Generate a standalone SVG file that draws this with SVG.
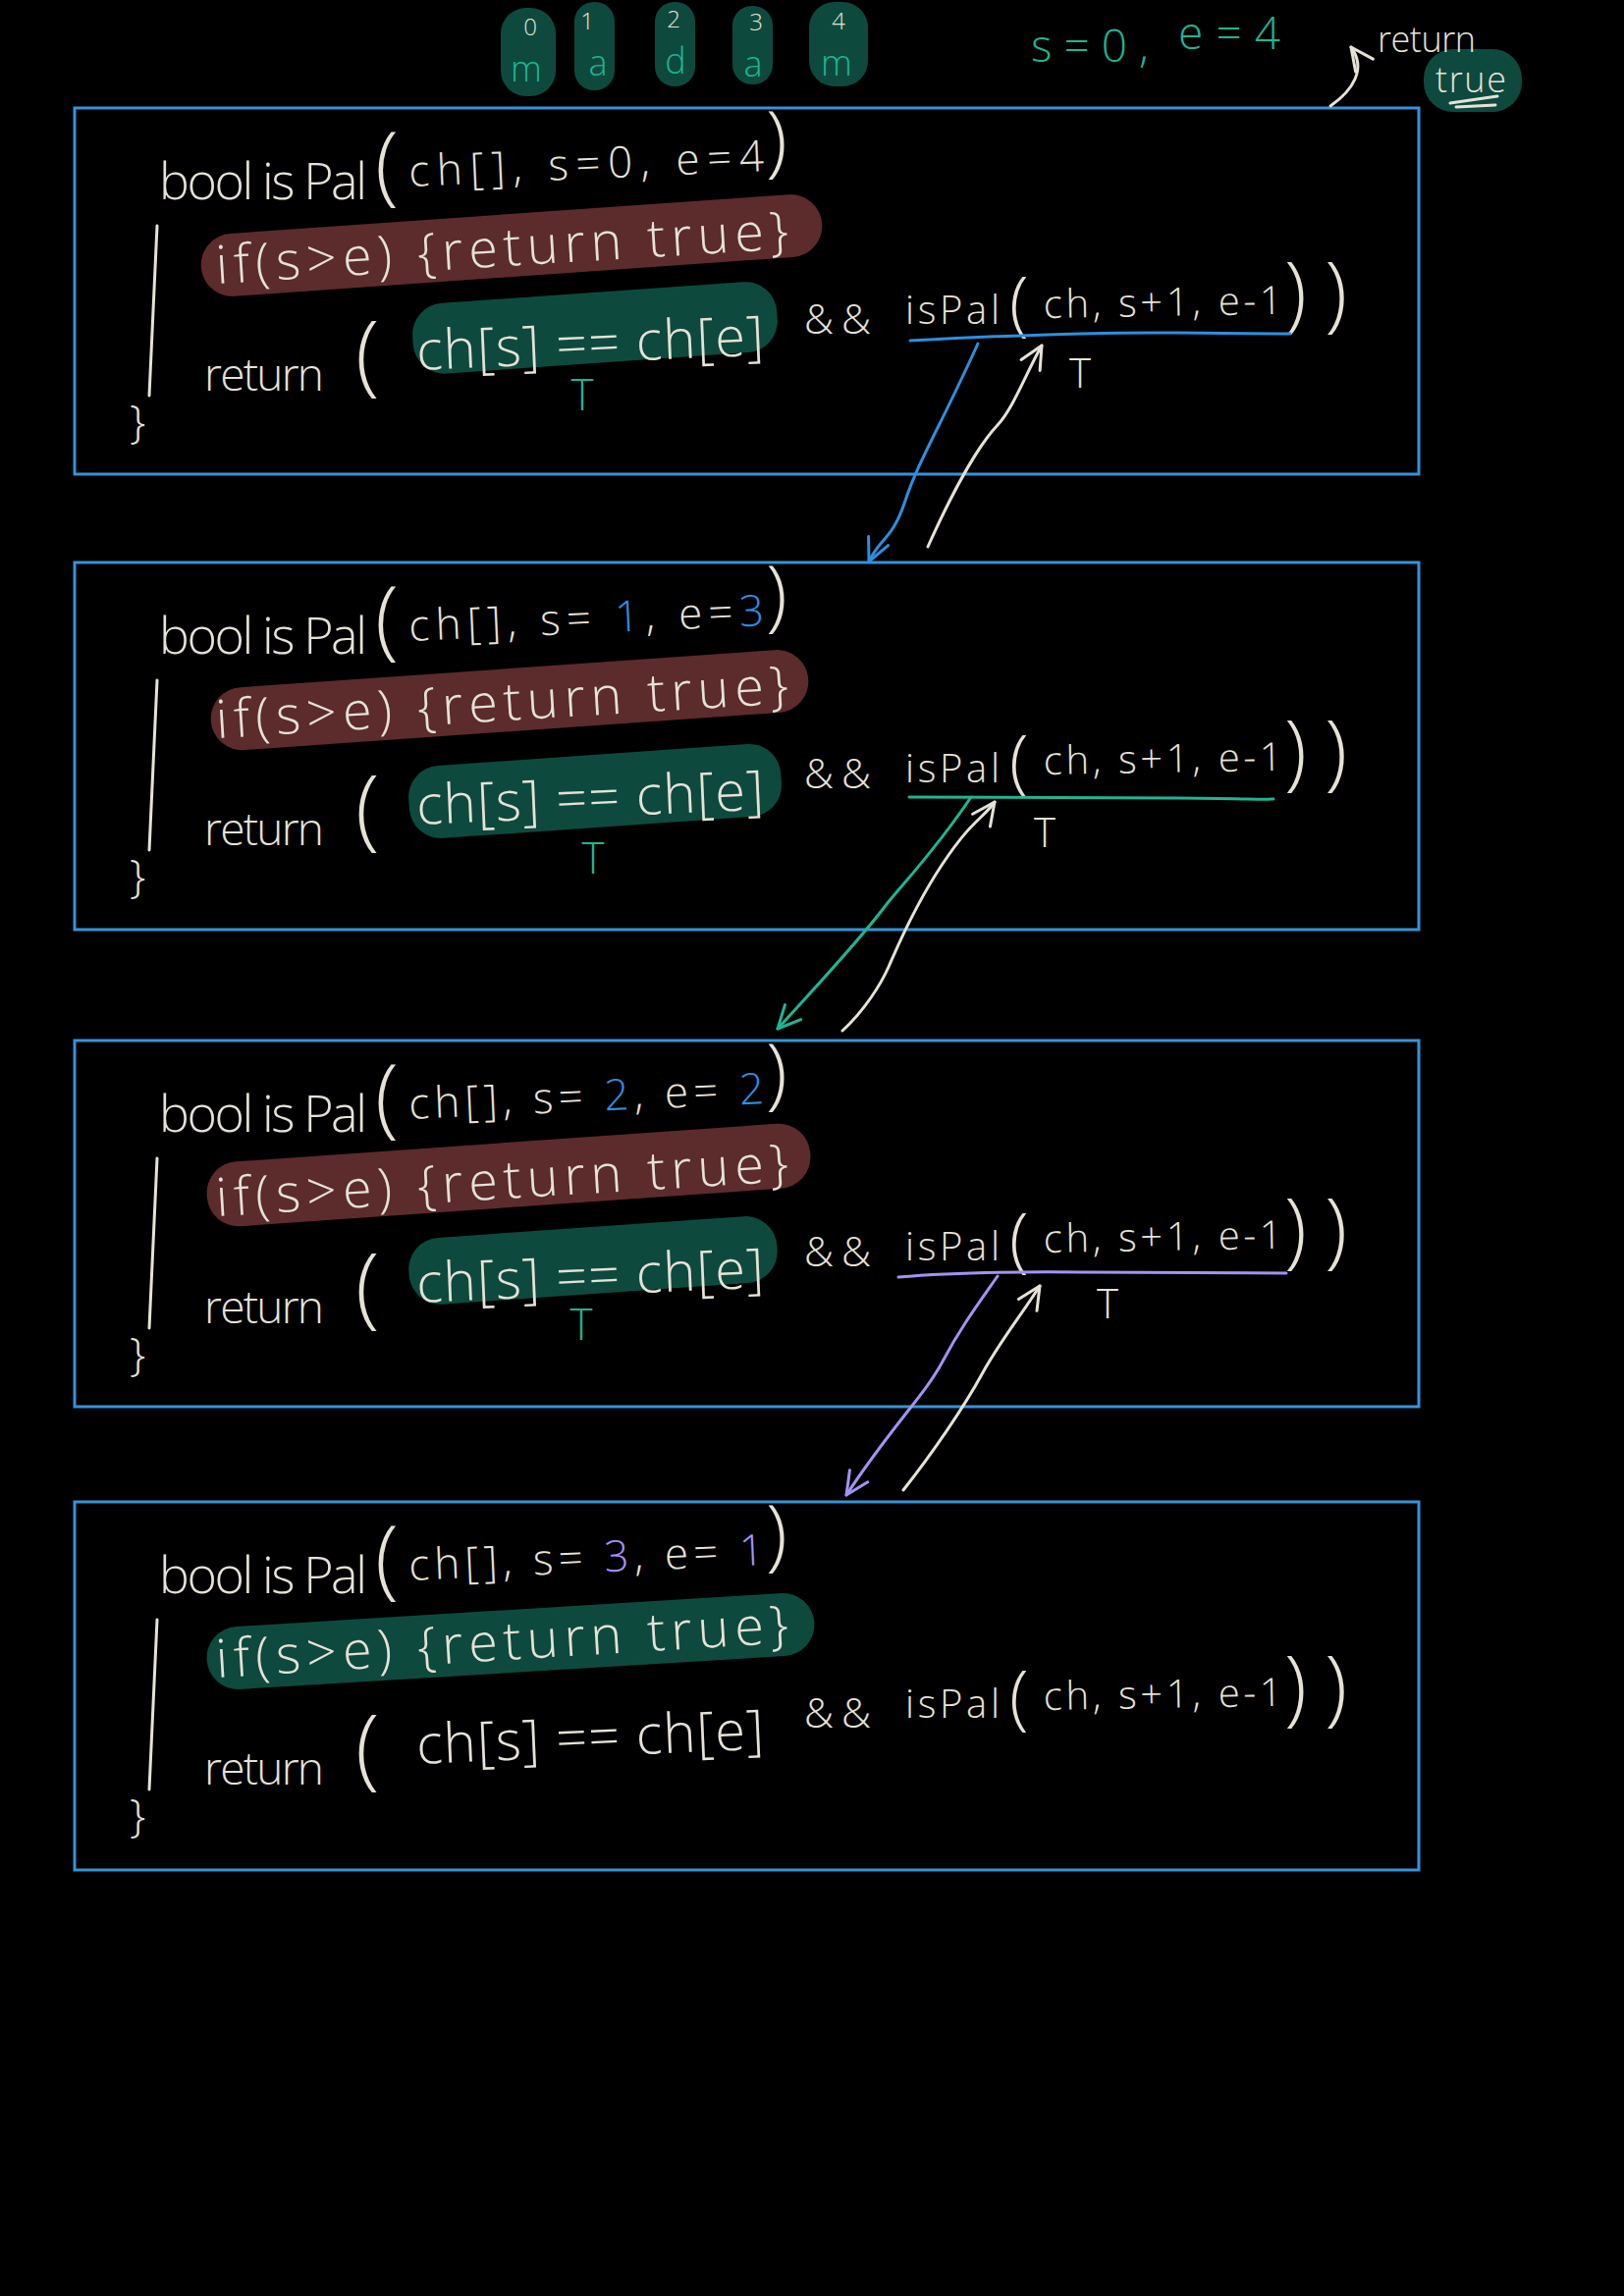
<svg xmlns="http://www.w3.org/2000/svg" width="1654" height="2339" viewBox="0 0 1654 2339">
<defs>
<style>
.hand{font-family:"Open Sans","Liberation Sans",sans-serif;font-weight:300;fill:#e6e2d8}
.frame{fill:none;stroke:#3593d8;stroke-width:3}
.red{fill:#5c2b2c}
.grn{fill:#0d4a3d}
.teal{fill:#1fb592}
.blu{fill:#2d8fe0}
.pur{fill:#a592f2}
.stk{fill:none;stroke:#e6e2d8;stroke-width:3;stroke-linecap:round;stroke-linejoin:round}
.conn{fill:none;stroke-width:3;stroke-linecap:round;stroke-linejoin:round}
</style>
<marker id="ah-w" viewBox="0 0 30 30" refX="27" refY="15" markerWidth="30" markerHeight="30" markerUnits="userSpaceOnUse" orient="auto"><path d="M4,4 L27,15 L4,26" fill="none" stroke="#e6e2d8" stroke-width="3" stroke-linecap="round" stroke-linejoin="round"/></marker>
<marker id="ah-b" viewBox="0 0 30 30" refX="27" refY="15" markerWidth="30" markerHeight="30" markerUnits="userSpaceOnUse" orient="auto"><path d="M4,4 L27,15 L4,26" fill="none" stroke="#2d8fe0" stroke-width="3" stroke-linecap="round" stroke-linejoin="round"/></marker>
<marker id="ah-g" viewBox="0 0 30 30" refX="27" refY="15" markerWidth="30" markerHeight="30" markerUnits="userSpaceOnUse" orient="auto"><path d="M4,4 L27,15 L4,26" fill="none" stroke="#1fb592" stroke-width="3" stroke-linecap="round" stroke-linejoin="round"/></marker>
<marker id="ah-p" viewBox="0 0 30 30" refX="27" refY="15" markerWidth="30" markerHeight="30" markerUnits="userSpaceOnUse" orient="auto"><path d="M4,4 L27,15 L4,26" fill="none" stroke="#a592f2" stroke-width="3" stroke-linecap="round" stroke-linejoin="round"/></marker>
</defs>
<rect width="1654" height="2339" fill="#000"/>

<g id="header">
  <rect class="grn" x="510" y="8" width="56" height="90" rx="26"/>
  <rect class="grn" x="585" y="2" width="41" height="90" rx="20"/>
  <rect class="grn" x="667" y="2" width="41" height="86" rx="20"/>
  <rect class="grn" x="746" y="6" width="41" height="80" rx="20"/>
  <rect class="grn" x="824" y="2" width="60" height="86" rx="26"/>
  <g class="hand" font-size="24" text-anchor="middle">
    <text x="540" y="36">0</text>
    <text x="598" y="30">1</text>
    <text x="686" y="28">2</text>
    <text x="770" y="31">3</text>
    <text x="854" y="30">4</text>
  </g>
  <g class="hand" font-size="36" text-anchor="middle" style="fill:#1fb592">
    <text x="536" y="83">m</text>
    <text x="609" y="77">a</text>
    <text x="688" y="75">d</text>
    <text x="767" y="78">a</text>
    <text x="852" y="77">m</text>
  </g>
  <text class="hand" style="fill:#1fb592" x="1050" y="63" font-size="46" textLength="120">s=0,</text>
  <text class="hand" style="fill:#1fb592" x="1200" y="50" font-size="46" textLength="104">e=4</text>
  <rect class="grn" x="1450" y="50" width="100" height="64" rx="30"/>
  <text class="hand" x="1403" y="53" font-size="36" textLength="100">return</text>
  <text class="hand" x="1462" y="94" font-size="36" textLength="72">true</text>
  <path class="stk" d="M1477,105 L1525,98 M1483,109 L1523,107"/>
</g>

<g id="call-1">
  <rect class="frame" x="76" y="110" width="1369" height="373"/>
  <text class="hand" x="162" y="203" font-size="52" textLength="212">bool is Pal</text>
  <text class="hand" x="382" y="198" font-size="88">(</text>
  <text class="hand" x="417" y="190" font-size="44" textLength="362" transform="rotate(-2.5 417 190)">ch[], s=0, e=4</text>
  <text class="hand" x="780" y="170" font-size="80">)</text>
  <rect class="red" transform="rotate(-4 521 250)" x="204" y="218" width="634" height="64" rx="32"/>
  <text class="hand" x="221" y="289" font-size="54" textLength="584" transform="rotate(-3.5 221 289)">if(s&gt;e) {return true}</text>
  <path class="stk" d="M160,230 L152,403"/>
  <text class="hand" x="132" y="446" font-size="46">}</text>
  <text class="hand" x="208" y="398" font-size="46" textLength="122">return</text>
  <text class="hand" x="362" y="392" font-size="90">(</text>
  <rect class="grn" transform="rotate(-4 605 334)" x="420" y="298" width="372" height="72" rx="32"/>
  <text class="hand" x="425" y="377" font-size="56" textLength="354" transform="rotate(-2.5 425 377)">ch[s] == ch[e]</text>
  <text class="hand" style="fill:#1fb592" x="593" y="418" font-size="44" text-anchor="middle">T</text>
  <text class="hand" x="819" y="340" font-size="42" textLength="68">&amp;&amp;</text>
  <text class="hand" x="922" y="330" font-size="40" textLength="96">isPal</text>
  <text class="hand" x="1028" y="334" font-size="72">(</text>
  <text class="hand" x="1063" y="324" font-size="40" textLength="243" transform="rotate(-1 1063 324)">ch, s+1, e-1</text>
  <text class="hand" x="1308" y="328" font-size="84" textLength="64">))</text>
  <path class="conn" stroke="#2d8fe0" d="M927,347 C1000,343 1100,338 1200,339 S1290,340 1314,340"/>
  <text class="hand" x="1100" y="395" font-size="42" text-anchor="middle">T</text>
</g>

<g id="call-2" transform="translate(0,463)">
  <rect class="frame" x="76" y="110" width="1369" height="374"/>
  <text class="hand" x="162" y="203" font-size="52" textLength="212">bool is Pal</text>
  <text class="hand" x="382" y="198" font-size="88">(</text>
  <text class="hand" x="417" y="190" font-size="44" textLength="362" transform="rotate(-2.5 417 190)">ch[], s= <tspan style="fill:#2d8fe0">1</tspan>, e=<tspan style="fill:#2d8fe0">3</tspan></text>
  <text class="hand" x="780" y="170" font-size="80">)</text>
  <rect class="red" transform="rotate(-4 521 250)" x="214" y="218" width="610" height="64" rx="32"/>
  <text class="hand" x="221" y="289" font-size="54" textLength="584" transform="rotate(-3.5 221 289)">if(s&gt;e) {return true}</text>
  <path class="stk" d="M160,230 L152,403"/>
  <text class="hand" x="132" y="446" font-size="46">}</text>
  <text class="hand" x="208" y="398" font-size="46" textLength="122">return</text>
  <text class="hand" x="362" y="392" font-size="90">(</text>
  <rect class="grn" transform="rotate(-4 605 342)" x="416" y="306" width="380" height="74" rx="32"/>
  <text class="hand" x="425" y="377" font-size="56" textLength="354" transform="rotate(-2.5 425 377)">ch[s] == ch[e]</text>
  <text class="hand" style="fill:#1fb592" x="604" y="427" font-size="44" text-anchor="middle">T</text>
  <text class="hand" x="819" y="340" font-size="42" textLength="68">&amp;&amp;</text>
  <text class="hand" x="922" y="334" font-size="40" textLength="96">isPal</text>
  <text class="hand" x="1028" y="338" font-size="72">(</text>
  <text class="hand" x="1063" y="326" font-size="40" textLength="243" transform="rotate(-1 1063 326)">ch, s+1, e-1</text>
  <text class="hand" x="1308" y="332" font-size="84" textLength="64">))</text>
  <path class="conn" stroke="#1fb592" d="M926,349 C1000,349 1100,349 1200,350 S1280,352 1297,351"/>
  <text class="hand" x="1064" y="400" font-size="42" text-anchor="middle">T</text>
</g>

<g id="call-3" transform="translate(0,950)">
  <rect class="frame" x="76" y="110" width="1369" height="373"/>
  <text class="hand" x="162" y="203" font-size="52" textLength="212">bool is Pal</text>
  <text class="hand" x="382" y="198" font-size="88">(</text>
  <text class="hand" x="417" y="190" font-size="44" textLength="362" transform="rotate(-2.5 417 190)">ch[], s= <tspan style="fill:#2d8fe0">2</tspan>, e= <tspan style="fill:#2d8fe0">2</tspan></text>
  <text class="hand" x="780" y="170" font-size="80">)</text>
  <rect class="red" transform="rotate(-4 518 247)" x="210" y="214" width="616" height="66" rx="32"/>
  <text class="hand" x="221" y="289" font-size="54" textLength="584" transform="rotate(-3.5 221 289)">if(s&gt;e) {return true}</text>
  <path class="stk" d="M160,230 L152,403"/>
  <text class="hand" x="132" y="446" font-size="46">}</text>
  <text class="hand" x="208" y="398" font-size="46" textLength="122">return</text>
  <text class="hand" x="362" y="392" font-size="90">(</text>
  <rect class="grn" transform="rotate(-4 603 334)" x="416" y="300" width="376" height="68" rx="32"/>
  <text class="hand" x="425" y="377" font-size="56" textLength="354" transform="rotate(-2.5 425 377)">ch[s] == ch[e]</text>
  <text class="hand" style="fill:#1fb592" x="592" y="415" font-size="44" text-anchor="middle">T</text>
  <text class="hand" x="819" y="340" font-size="42" textLength="68">&amp;&amp;</text>
  <text class="hand" x="922" y="334" font-size="40" textLength="96">isPal</text>
  <text class="hand" x="1028" y="338" font-size="72">(</text>
  <text class="hand" x="1063" y="326" font-size="40" textLength="243" transform="rotate(-1 1063 326)">ch, s+1, e-1</text>
  <text class="hand" x="1308" y="332" font-size="84" textLength="64">))</text>
  <path class="conn" stroke="#a592f2" d="M915,351 C950,348 1000,345 1100,346 S1280,347 1310,347"/>
  <text class="hand" x="1128" y="393" font-size="42" text-anchor="middle">T</text>
</g>

<g id="call-4" transform="translate(0,1420)">
  <rect class="frame" x="76" y="110" width="1369" height="375"/>
  <text class="hand" x="162" y="203" font-size="52" textLength="212">bool is Pal</text>
  <text class="hand" x="382" y="198" font-size="88">(</text>
  <text class="hand" x="417" y="190" font-size="44" textLength="362" transform="rotate(-2.5 417 190)">ch[], s= <tspan style="fill:#a592f2">3</tspan>, e= <tspan style="fill:#a592f2">1</tspan></text>
  <text class="hand" x="780" y="170" font-size="80">)</text>
  <rect class="grn" transform="rotate(-3.5 520 252)" x="210" y="220" width="620" height="64" rx="32"/>
  <text class="hand" x="221" y="289" font-size="54" textLength="584" transform="rotate(-3.5 221 289)">if(s&gt;e) {return true}</text>
  <path class="stk" d="M160,230 L152,403"/>
  <text class="hand" x="132" y="446" font-size="46">}</text>
  <text class="hand" x="208" y="398" font-size="46" textLength="122">return</text>
  <text class="hand" x="362" y="392" font-size="90">(</text>
  <text class="hand" x="425" y="377" font-size="56" textLength="354" transform="rotate(-2.5 425 377)">ch[s] == ch[e]</text>
  <text class="hand" x="819" y="340" font-size="42" textLength="68">&amp;&amp;</text>
  <text class="hand" x="922" y="330" font-size="40" textLength="96">isPal</text>
  <text class="hand" x="1028" y="334" font-size="72">(</text>
  <text class="hand" x="1063" y="322" font-size="40" textLength="243" transform="rotate(-1 1063 322)">ch, s+1, e-1</text>
  <text class="hand" x="1308" y="328" font-size="84" textLength="64">))</text>
</g>

<g id="connectors">
  <path class="conn" stroke="#e6e2d8" marker-end="url(#ah-w)" d="M1355,108 C1378,92 1392,70 1376,48"/>
  <path class="conn" stroke="#2d8fe0" marker-end="url(#ah-b)" d="M996,350 C960,430 935,470 922,510 S896,548 885,572"/>
  <path class="conn" stroke="#e6e2d8" marker-end="url(#ah-w)" d="M945,557 C975,490 1000,450 1016,433 S1045,380 1061,352"/>
  <path class="conn" stroke="#1fb592" marker-end="url(#ah-g)" d="M989,812 C950,870 915,905 900,925 S850,985 792,1048"/>
  <path class="conn" stroke="#e6e2d8" marker-end="url(#ah-w)" d="M858,1050 C880,1030 897,1003 905,985 S930,925 960,880 S1000,835 1013,817"/>
  <path class="conn" stroke="#a592f2" marker-end="url(#ah-p)" d="M1016,1300 C995,1330 978,1353 960,1387 S908,1453 862,1523"/>
  <path class="conn" stroke="#e6e2d8" marker-end="url(#ah-w)" d="M920,1518 C950,1480 982,1433 1000,1400 S1040,1340 1059,1310"/>
</g>
</svg>
